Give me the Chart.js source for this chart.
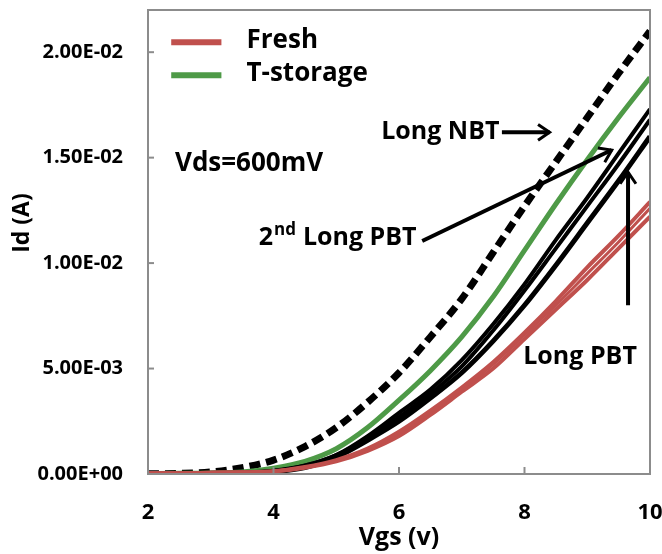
<!DOCTYPE html>
<html>
<head>
<meta charset="utf-8">
<script src="https://cdn.jsdelivr.net/npm/chart.js@4.4.0/dist/chart.umd.min.js"></script>
<style>
  html, body { margin: 0; padding: 0; background: #fff; }
  #wrap { width: 662px; height: 554px; }
</style>
</head>
<body>
<div id="wrap"><canvas id="idvg"></canvas></div>
<script>
// gate voltage sweep (V)
var vgs = [2, 2.5, 3, 3.5, 4, 4.5, 5, 5.5, 6, 6.5, 7, 7.5, 8, 8.5, 9, 9.5, 10];

// drain current (A), Vds = 600 mV
var freshA = [0.00003, 0.00004, 0.00006, 0.00008, 0.00013, 0.00033, 0.00066, 0.0012, 0.0020, 0.0030, 0.0041, 0.0053, 0.0067, 0.0082, 0.0098, 0.0113, 0.0129];
var freshB = [0.00003, 0.00004, 0.00006, 0.00008, 0.00013, 0.00032, 0.00063, 0.00115, 0.0019, 0.0029, 0.0040, 0.0052, 0.0066, 0.0080, 0.0095, 0.0110, 0.0126];
var freshC = [0.00003, 0.00004, 0.00006, 0.00008, 0.00012, 0.0003, 0.0006, 0.0011, 0.0018, 0.0028, 0.0039, 0.0050, 0.0064, 0.0078, 0.0092, 0.0107, 0.0122];
var tStorage = [0.00002, 0.00003, 0.00005, 0.0001, 0.00028, 0.0006, 0.0012, 0.0022, 0.0035, 0.0049, 0.0065, 0.0084, 0.0106, 0.0128, 0.0149, 0.0169, 0.0188];
var longNbt = [0.00001, 0.00003, 0.0001, 0.0003, 0.00066, 0.0013, 0.0022, 0.0034, 0.0048, 0.0065, 0.0083, 0.0105, 0.0127, 0.0148, 0.0169, 0.0190, 0.0210];
var pbt2nd = [0, 0.00001, 0.00003, 0.00006, 0.00015, 0.0004, 0.0009, 0.0018, 0.0029, 0.0040, 0.0054, 0.0071, 0.0090, 0.0111, 0.0131, 0.0152, 0.0173];
var pbtLongA = [0, 0.00001, 0.00003, 0.00006, 0.00014, 0.0004, 0.0009, 0.0017, 0.0027, 0.0038, 0.0051, 0.0068, 0.0087, 0.0107, 0.0127, 0.0147, 0.0168];
var pbtLongB = [0, 0.00001, 0.00003, 0.00005, 0.0001, 0.0003, 0.0008, 0.0016, 0.0025, 0.0036, 0.0048, 0.0063, 0.0080, 0.0099, 0.0119, 0.0139, 0.0160];

var yTicks = [0, 0.005, 0.01, 0.015, 0.02];
var xTicks = [2, 4, 6, 8, 10];

var RED = "#C0504D", GREEN = "#4E9A47", GRAY = "#8C8C8C";
var FONT = "'Open Sans', sans-serif";

function pts(ys) {
  return ys.map(function (y, i) { return { x: vgs[i], y: y }; });
}

function fmtE(v) {
  var s = Number(v).toExponential(2).toUpperCase();
  var m = s.split("E");
  var sign = m[1].charAt(0) === "-" ? "-" : "+";
  var e = Math.abs(parseInt(m[1], 10));
  return m[0] + "E" + sign + (e < 10 ? "0" + e : e);
}

function line(label, ys, color, width, dash) {
  return {
    label: label,
    data: pts(ys),
    borderColor: color,
    backgroundColor: color,
    borderWidth: width,
    borderDash: dash || [],
    pointRadius: 0,
    tension: 0.4,
    cubicInterpolationMode: "monotone",
    fill: false
  };
}

// annotation positions in data units
var notes = {
  vds: { x: 2.43, y: 0.01474, text: "Vds=600mV" },
  nbt: { x: 7.60, y: 0.0162, text: "Long NBT", ax0: 7.64, ax1: 8.40 },
  pbt2: { x: 6.28, y: 0.01118, ax0: 6.37, ay0: 0.01105, ax1: 9.39, ay1: 0.01536 },
  pbt: { x: 7.98, y: 0.00555, text: "Long PBT", ax: 9.65, ay0: 0.0080, ay1: 0.01431 }
};
var legendRows = [
  { label: "Fresh", color: RED, y: 0.02047 },
  { label: "T-storage", color: GREEN, y: 0.01891 }
];

function arrowHead(ctx, x0, y0, x1, y1, size) {
  var a = Math.atan2(y1 - y0, x1 - x0);
  ctx.beginPath();
  ctx.moveTo(x1 - size * Math.cos(a - 0.6), y1 - size * Math.sin(a - 0.6));
  ctx.lineTo(x1, y1);
  ctx.lineTo(x1 - size * Math.cos(a + 0.6), y1 - size * Math.sin(a + 0.6));
  ctx.stroke();
}

var decor = {
  id: "decor",
  afterDraw: function (chart) {
    var ctx = chart.ctx, ca = chart.chartArea;
    var xs = chart.scales.x, ys = chart.scales.y;
    ctx.save();
    // frame and inward ticks
    ctx.strokeStyle = GRAY;
    ctx.lineWidth = 2;
    ctx.strokeRect(ca.left, ca.top, ca.right - ca.left, ca.bottom - ca.top);
    ys.ticks.forEach(function (t) {
      var py = ys.getPixelForValue(t.value);
      ctx.beginPath(); ctx.moveTo(ca.left, py); ctx.lineTo(ca.left + 6, py); ctx.stroke();
    });
    xs.ticks.forEach(function (t) {
      var px = xs.getPixelForValue(t.value);
      ctx.beginPath(); ctx.moveTo(px, ca.bottom); ctx.lineTo(px, ca.bottom - 7); ctx.stroke();
    });

    // y axis title
    ctx.save();
    ctx.translate(22, ys.getPixelForValue(0.0119));
    ctx.rotate(-Math.PI / 2);
    ctx.textAlign = "center";
    ctx.textBaseline = "middle";
    ctx.fillStyle = "#000";
    ctx.font = "bold 23px " + FONT;
    ctx.fillText("Id (A)", 0, 0);
    ctx.restore();

    // legend inside the plot
    ctx.textBaseline = "middle";
    ctx.textAlign = "left";
    ctx.font = "bold 26px " + FONT;
    legendRows.forEach(function (r) {
      var py = ys.getPixelForValue(r.y);
      ctx.strokeStyle = r.color;
      ctx.lineWidth = 6;
      ctx.beginPath();
      ctx.moveTo(xs.getPixelForValue(2.37), py);
      ctx.lineTo(xs.getPixelForValue(3.17), py);
      ctx.stroke();
      ctx.fillStyle = "#000";
      ctx.fillText(r.label, xs.getPixelForValue(3.57), py - 2);
    });

    ctx.fillStyle = "#000";
    ctx.strokeStyle = "#000";
    ctx.font = "bold 26px " + FONT;
    ctx.fillText(notes.vds.text, xs.getPixelForValue(notes.vds.x), ys.getPixelForValue(notes.vds.y));
    ctx.font = "bold 25px " + FONT;

    // Long NBT
    ctx.textAlign = "right";
    ctx.fillText(notes.nbt.text, xs.getPixelForValue(notes.nbt.x), ys.getPixelForValue(notes.nbt.y));
    var ny = ys.getPixelForValue(notes.nbt.y);
    ctx.lineWidth = 4;
    ctx.beginPath();
    ctx.moveTo(xs.getPixelForValue(notes.nbt.ax0), ny);
    ctx.lineTo(xs.getPixelForValue(notes.nbt.ax1), ny);
    ctx.stroke();
    ctx.lineWidth = 3;
    arrowHead(ctx, xs.getPixelForValue(notes.nbt.ax0), ny, xs.getPixelForValue(notes.nbt.ax1), ny, 14);

    // 2nd Long PBT
    var px2 = xs.getPixelForValue(notes.pbt2.x), py2 = ys.getPixelForValue(notes.pbt2.y);
    ctx.textAlign = "right";
    ctx.fillText("Long PBT", px2, py2);
    var w1 = ctx.measureText("Long PBT").width + 7;
    ctx.font = "bold 17px " + FONT;
    var w2 = ctx.measureText("nd").width + 1;
    ctx.fillText("nd", px2 - w1, py2 - 8);
    ctx.font = "bold 25px " + FONT;
    ctx.fillText("2", px2 - w1 - w2, py2);
    var a0x = xs.getPixelForValue(notes.pbt2.ax0), a0y = ys.getPixelForValue(notes.pbt2.ay0);
    var a1x = xs.getPixelForValue(notes.pbt2.ax1), a1y = ys.getPixelForValue(notes.pbt2.ay1);
    ctx.lineWidth = 4;
    ctx.beginPath(); ctx.moveTo(a0x, a0y); ctx.lineTo(a1x, a1y); ctx.stroke();
    ctx.lineWidth = 3;
    arrowHead(ctx, a0x, a0y, a1x, a1y, 14);

    // Long PBT
    ctx.textAlign = "left";
    ctx.fillText(notes.pbt.text, xs.getPixelForValue(notes.pbt.x), ys.getPixelForValue(notes.pbt.y));
    var vx = xs.getPixelForValue(notes.pbt.ax);
    var v0 = ys.getPixelForValue(notes.pbt.ay0), v1 = ys.getPixelForValue(notes.pbt.ay1);
    ctx.lineWidth = 4;
    ctx.beginPath(); ctx.moveTo(vx, v0); ctx.lineTo(vx, v1); ctx.stroke();
    ctx.lineWidth = 3;
    arrowHead(ctx, vx, v0, vx, v1, 14);
    ctx.restore();
  }
};

var datasets = [
  line("Fresh", freshA, RED, 4),
  line("Fresh", freshB, RED, 3),
  line("Fresh", freshC, RED, 4),
  line("Long PBT", pbtLongB, "#000", 5),
  line("Long PBT", pbtLongA, "#000", 4),
  line("2nd Long PBT", pbt2nd, "#000", 4),
  line("T-storage", tStorage, GREEN, 5),
  line("Long NBT", longNbt, "#000", 7, [11, 6])
];

var chart = new Chart(document.getElementById("idvg"), {
  type: "line",
  data: { datasets: datasets },
  options: {
    responsive: true,
    maintainAspectRatio: false,
    animation: false,
    layout: { padding: { top: 10, right: 12, left: 0, bottom: 0 } },
    plugins: { legend: { display: false }, tooltip: { enabled: false } },
    scales: {
      x: {
        type: "linear",
        min: 2, max: 10,
        afterFit: function (s) { s.height = 80; s.paddingLeft = 0; s.paddingRight = 0; },
        afterBuildTicks: function (s) { s.ticks = xTicks.map(function (v) { return { value: v }; }); },
        grid: { display: false, drawTicks: false },
        border: { display: false },
        ticks: { padding: 26, color: "#000", font: { family: FONT, size: 22, weight: "bold" } },
        title: {
          display: true, text: "Vgs (v)", color: "#000",
          padding: { top: 0, bottom: 1 },
          font: { family: FONT, size: 25, weight: "bold" }
        }
      },
      y: {
        type: "linear",
        min: 0, max: 0.022,
        afterFit: function (s) { s.width = 148; s.paddingTop = 0; s.paddingBottom = 0; },
        afterBuildTicks: function (s) { s.ticks = yTicks.map(function (v) { return { value: v }; }); },
        grid: { display: false, drawTicks: false },
        border: { display: false },
        ticks: {
          padding: 25, color: "#000",
          font: { family: FONT, size: 20, weight: "bold" },
          callback: function (v) { return fmtE(v); }
        },
        title: { display: false }
      }
    }
  },
  plugins: [decor]
});
</script>
</body>
</html>
